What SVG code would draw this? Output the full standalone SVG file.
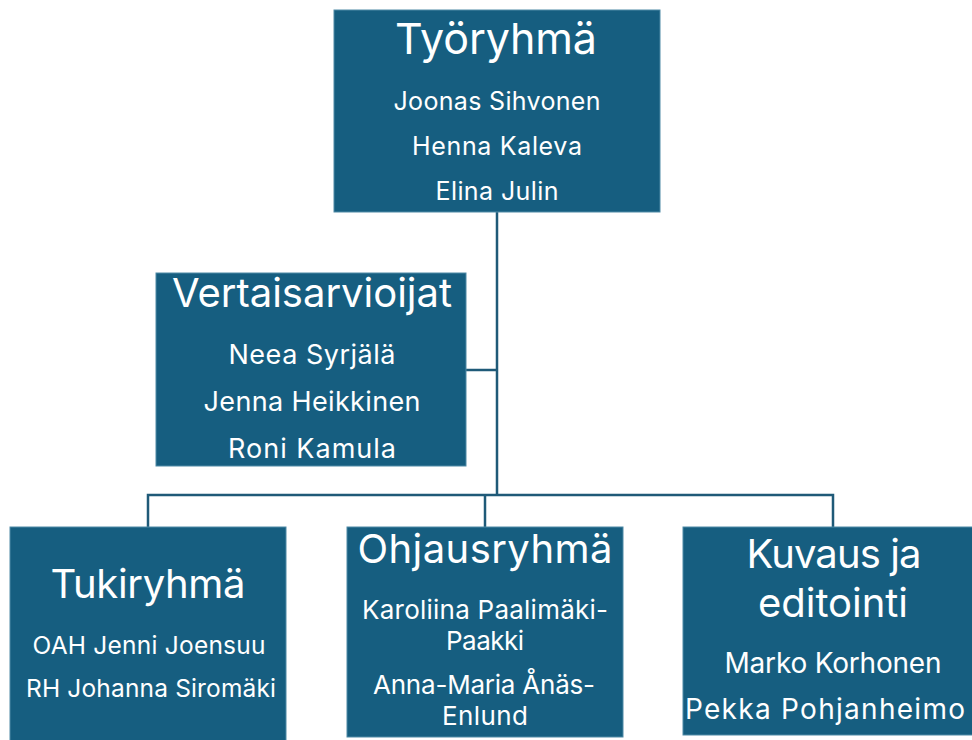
<svg xmlns="http://www.w3.org/2000/svg" width="972" height="740" viewBox="0 0 972 740">
<style>
.box{fill:#165e80;stroke:#4f8aa6;stroke-width:1}
.t{font-family:Inter,"Open Sans","Liberation Sans",sans-serif;fill:#ffffff;text-anchor:middle}
.h{font-size:40px}
.c{fill:none;stroke:#1f5a78;stroke-width:2.5}
</style>
<rect width="972" height="740" fill="#ffffff"/>
<g id="connectors">
<path class="c" d="M497 212 V495"/>
<path class="c" d="M466 370 H497"/>
<path class="c" d="M148 527 V495 H833 V527"/>
<path class="c" d="M485 495 V527"/>
</g>
<g id="tyoryhma" font-size="25">
<rect class="box" x="334" y="10" width="326" height="202"/>
<text class="t" font-size="43" x="496" y="54" textLength="202">Työryhmä</text>
<text class="t" x="497" y="110" textLength="207">Joonas Sihvonen</text>
<text class="t" x="497" y="155" textLength="170">Henna Kaleva</text>
<text class="t" x="497" y="200" textLength="123">Elina Julin</text>
</g>
<g id="vertaisarvioijat" font-size="27">
<rect class="box" x="156" y="273" width="310" height="193"/>
<text class="t h" x="312" y="307" textLength="280">Vertaisarvioijat</text>
<text class="t" x="312" y="364" textLength="167">Neea Syrjälä</text>
<text class="t" x="312" y="411" textLength="217">Jenna Heikkinen</text>
<text class="t" x="312" y="458" textLength="168">Roni Kamula</text>
</g>
<g id="tukiryhma" font-size="24.5">
<rect class="box" x="10" y="527" width="276" height="215"/>
<text class="t h" x="148" y="598" textLength="195">Tukiryhmä</text>
<text class="t" x="149" y="654" textLength="233">OAH Jenni Joensuu</text>
<text class="t" x="151" y="697" textLength="250">RH Johanna Siromäki</text>
</g>
<g id="ohjausryhma" font-size="26">
<rect class="box" x="347" y="527" width="276" height="210"/>
<text class="t h" x="485" y="563" textLength="255">Ohjausryhmä</text>
<text class="t" x="485" y="619" textLength="246">Karoliina Paalimäki-</text>
<text class="t" x="485" y="650" textLength="78">Paakki</text>
<text class="t" x="484" y="694" textLength="222">Anna-Maria Ånäs-</text>
<text class="t" x="485" y="725" textLength="86">Enlund</text>
</g>
<g id="kuvaus" font-size="28">
<rect class="box" x="683" y="527" width="294" height="208"/>
<text class="t h" x="834" y="568" textLength="175">Kuvaus ja</text>
<text class="t h" x="833" y="617" textLength="150">editointi</text>
<text class="t" x="833" y="673" textLength="217">Marko Korhonen</text>
<text class="t" x="825" y="719" textLength="280">Pekka Pohjanheimo</text>
</g>
</svg>
